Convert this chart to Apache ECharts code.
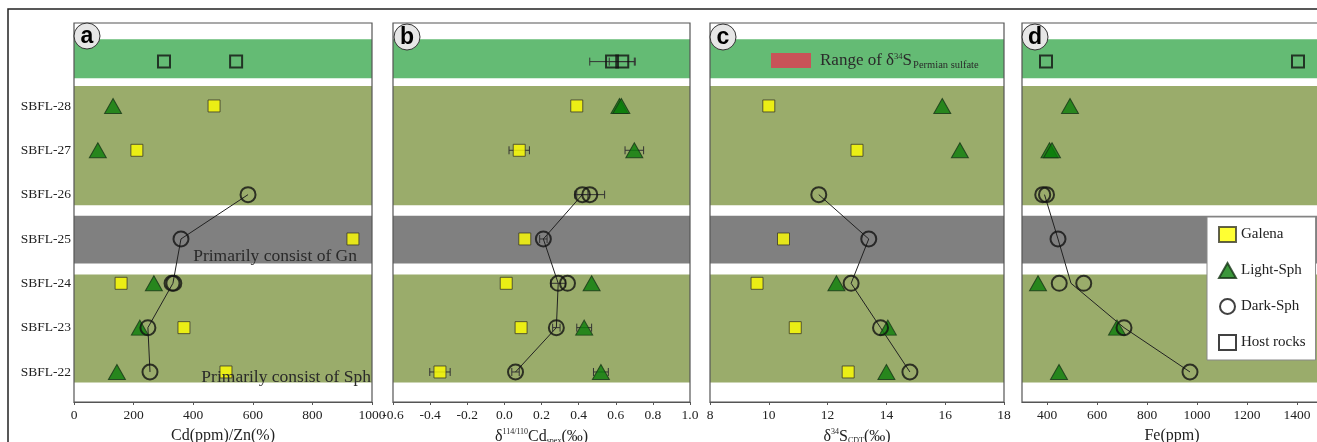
<!DOCTYPE html>
<html><head><meta charset="utf-8">
<script src="https://cdn.jsdelivr.net/npm/echarts@6/dist/echarts.min.js"></script>
<style>html,body{margin:0;padding:0;background:#fff}#c{width:1317px;height:442px}</style>
</head><body><div id="c"></div>
<script>
// Row index: 0=SBFL-22 ... 6=SBFL-28, 7=host rocks
const rows = ['SBFL-22','SBFL-23','SBFL-24','SBFL-25','SBFL-26','SBFL-27','SBFL-28'];
const rowTicks = [0,1,2,3,4,5,6];

// Panel a: Cd(ppm)/Zn(%)
const aGalena = [[510,0],[369,1],[158,2],[936,3],[211,5],[470,6]];
const aLight  = [[144,0],[221,1],[268,2],[80,5],[131,6]];
const aDark   = [[255,0],[248,1],[329,2],[335,2],[359,3],[584,4]];
const aTrend  = [[584,4],[359,3],[332,2],[248,1],[255,0]];
const aHost   = [[302,7],[544,7]];

// Panel b: d114/110Cd (value,row,error)
const bGalena = [[-0.347,0,0.055],[0.09,1,0],[0.01,2,0],[0.11,3,0],[0.08,5,0.055],[0.39,6,0]];
const bLight  = [[0.52,0,0.04],[0.43,1,0.04],[0.47,2,0],[0.70,5,0.05],[0.62,6,0],[0.63,6,0]];
const bDark   = [[0.06,0,0.02],[0.28,1,0.02],[0.29,2,0.04],[0.34,2,0],[0.21,3,0.02],[0.42,4,0.03],[0.46,4,0.08]];
const bTrend  = [[0.42,4],[0.21,3],[0.29,2],[0.28,1],[0.06,0]];
const bHost   = [[0.58,7,0.12],[0.635,7,0.07]];

// Panel c: d34S CDT
const cGalena = [[12.7,0],[10.9,1],[9.6,2],[10.5,3],[13.0,5],[10.0,6]];
const cLight  = [[14.0,0],[14.05,1],[12.3,2],[16.5,5],[15.9,6]];
const cDark   = [[14.8,0],[13.8,1],[12.8,2],[13.4,3],[11.7,4]];
const cTrend  = [[11.7,4],[13.4,3],[12.8,2],[13.8,1],[14.8,0]];

// Panel d: Fe(ppm)
const dLight  = [[448,0],[680,1],[364,2],[410,5],[420,5],[492,6]];
const dDark   = [[972,0],[708,1],[449,2],[547,2],[444,3],[383,4],[398,4]];
const dTrend  = [[390,4],[444,3],[496,2],[708,1],[972,0]];
const dHost   = [[396,7],[1404,7]];

// Background bands (row units): [from, to, kind]
const bands = [[6.623,7.503,'host'],[3.763,6.449,'sph'],[2.447,3.521,'gn'],[-0.239,2.199,'sph']];
const bandColors = {host:'#64bb74', sph:'#9aac6b', gn:'#808080'};

const xTicksD = [400,600,800,1000,1200,1400];

const FONT = 'Liberation Serif';
const chart = echarts.init(document.getElementById('c'));

const grids = [
  {left:74, top:23, width:298, height:379},
  {left:393, top:23, width:297, height:379},
  {left:710, top:23, width:294, height:379},
  {left:1022, top:23, width:300, height:379}
].map(g => Object.assign(g, {show:true, borderColor:'#555', borderWidth:1.2, backgroundColor:'transparent', z:10, outerBoundsMode:'none', containLabel:false}));

function xAx(i, min, max, interval, name, extra) {
  return Object.assign({
    type:'value', gridIndex:i, min:min, max:max, interval:interval,
    name:name, nameLocation:'middle', nameGap:26,
    nameTextStyle:{fontFamily:FONT, fontSize:16, color:'#222'},
    splitLine:{show:false},
    axisLine:{show:true, onZero:false, lineStyle:{color:'#555', width:1.2}},
    axisTick:{show:true, inside:false, length:3, lineStyle:{color:'#555'}},
    axisLabel:{fontFamily:FONT, fontSize:13.5, color:'#222', margin:6, showMinLabel:true, showMaxLabel:true, formatter:v=>String(v)},
    z:10
  }, extra||{});
}
function yAx(i, labels) {
  return {
    type:'value', gridIndex:i, min:-0.677, max:7.871,
    splitLine:{show:false}, axisLine:{show:false, onZero:false}, axisTick:{show:false},
    axisLabel: labels ? {show:true, customValues:rowTicks, formatter:v=>rows[v], fontFamily:FONT, fontSize:13.5, color:'#222', margin:3} : {show:false}
  };
}

const xAxes = [
  xAx(0, 0, 1000, 200, 'Cd(ppm)/Zn(%)'),
  xAx(1, -0.6, 1.0, 0.2, '{n|δ}{sup|114/110}{n|Cd}{sub|spex}{n|(‰)}', {axisLabel:{fontFamily:FONT, fontSize:13.5, color:'#222', margin:6, formatter:v=>v.toFixed(1)}}),
  xAx(2, 8, 18, 2, '{n|δ}{sup|34}{n|S}{sub|CDT}{n|(‰)}'),
  xAx(3, 300, 1500, 100, 'Fe(ppm)', {
    axisLabel:{customValues:xTicksD, fontFamily:FONT, fontSize:13.5, color:'#222', margin:6, formatter:v=>String(v)},
    axisTick:{customValues:xTicksD, show:true, length:3, lineStyle:{color:'#555'}}
  })
];
const richName = {
  n:{fontFamily:FONT, fontSize:16, color:'#222'},
  sup:{fontFamily:FONT, fontSize:8, color:'#222', padding:[0,0,9,0]},
  sub:{fontFamily:FONT, fontSize:8, color:'#222', padding:[9,0,0,0]}
};
xAxes[1].nameTextStyle.rich = richName;
xAxes[2].nameTextStyle.rich = richName;

const yAxes = [yAx(0,true), yAx(1,false), yAx(2,false), yAx(3,false)];

const galenaStyle = {symbol:'rect', symbolSize:12, itemStyle:{color:'#ffff00', borderColor:'#3a3a2a', borderWidth:1}};
const lightStyle = {symbol:'triangle', symbolSize:[17,15], itemStyle:{color:'#0a7d0a', borderColor:'#173517', borderWidth:1}};
const darkStyle = {symbol:'circle', symbolSize:15, itemStyle:{color:'rgba(0,0,0,0)', borderColor:'#111', borderWidth:2}};
const hostStyle = {symbol:'rect', symbolSize:12, itemStyle:{color:'rgba(0,0,0,0)', borderColor:'#111', borderWidth:2}};

const series = [];
function bandSeries(i) {
  series.push({
    type:'scatter', name:'bands'+i, xAxisIndex:i, yAxisIndex:i, data:[], silent:true, z:0,
    markArea:{silent:true, itemStyle:{opacity:1}, data: bands.map(b => [
      {yAxis:b[0], itemStyle:{color:bandColors[b[2]], opacity:1}}, {yAxis:b[1]}
    ])}
  });
}
function errSeries(i, data) {
  series.push({
    type:'custom', xAxisIndex:i, yAxisIndex:i, z:2, silent:true, data:data,
    renderItem:(params, api) => {
      const x = api.value(0), y = api.value(1), e = api.value(2);
      if (!e) return null;
      const p1 = api.coord([x-e, y]), p2 = api.coord([x+e, y]);
      const st = {stroke:'#333', lineWidth:1};
      return {type:'group', children:[
        {type:'line', shape:{x1:p1[0], y1:p1[1], x2:p2[0], y2:p2[1]}, style:st},
        {type:'line', shape:{x1:p1[0], y1:p1[1]-4, x2:p1[0], y2:p1[1]+4}, style:st},
        {type:'line', shape:{x1:p2[0], y1:p2[1]-4, x2:p2[0], y2:p2[1]+4}, style:st}
      ]};
    }
  });
}
function trend(i, data) {
  series.push({type:'line', name:'trend'+i, xAxisIndex:i, yAxisIndex:i, data:data, symbol:'none', z:3, silent:true,
    lineStyle:{color:'#222', width:1}});
}
function scat(i, name, data, style) {
  series.push(Object.assign({type:'scatter', name:name, xAxisIndex:i, yAxisIndex:i, data:data, z:5}, JSON.parse(JSON.stringify(style))));
}

// Panel a
bandSeries(0); trend(0, aTrend);
scat(0,'Galena',aGalena,galenaStyle); scat(0,'Light-Sph',aLight,lightStyle); scat(0,'Dark-Sph',aDark,darkStyle); scat(0,'Host rocks',aHost,hostStyle);
// Panel b
bandSeries(1); errSeries(1, bGalena.concat(bLight, bDark, bHost)); trend(1, bTrend);
scat(1,'Galena',bGalena,galenaStyle); scat(1,'Light-Sph',bLight,lightStyle); scat(1,'Dark-Sph',bDark,darkStyle); scat(1,'Host rocks',bHost,hostStyle);
// Panel c
bandSeries(2); trend(2, cTrend);
scat(2,'Galena',cGalena,galenaStyle); scat(2,'Light-Sph',cLight,lightStyle); scat(2,'Dark-Sph',cDark,darkStyle);
// Panel d
bandSeries(3); trend(3, dTrend);
scat(3,'Light-Sph',dLight,lightStyle); scat(3,'Dark-Sph',dDark,darkStyle); scat(3,'Host rocks',dHost,hostStyle);

function panelLabel(cx, cy, letter) {
  return [
    {type:'circle', z:50, zlevel:1, shape:{cx:cx, cy:cy, r:13}, style:{fill:'#e6e6e6', stroke:'#333', lineWidth:1}},
    {type:'text', z:51, zlevel:1, x:cx, y:cy+1, style:{text:letter, font:'bold 23px Liberation Sans', fill:'#000', align:'center', verticalAlign:'middle'}}
  ];
}

const option = {
  animation:false,
  backgroundColor:'#fff',
  grid: grids,
  xAxis: xAxes,
  yAxis: yAxes,
  legend: {
    data:['Galena','Light-Sph','Dark-Sph','Host rocks'],
    orient:'vertical', left:1207, top:217,
    itemWidth:17, itemHeight:15, itemGap:19,
    padding:[9,10,9,11],
    backgroundColor:'#fff', borderColor:'#888', borderWidth:1,
    textStyle:{fontFamily:FONT, fontSize:15, color:'#222'},
    selectedMode:false, z:30
  },
  graphic: [
    {type:'rect', z:-10, shape:{x:8, y:9, width:1400, height:500}, style:{fill:'none', stroke:'#222', lineWidth:1.5}},
    ...panelLabel(87, 36, 'a'), ...panelLabel(407, 37, 'b'), ...panelLabel(723, 37, 'c'), ...panelLabel(1035, 37, 'd'),
    {type:'text', z:50, zlevel:1, x:357, y:256, style:{text:'Primarily consist of Gn', font:'17.5px Liberation Serif', fill:'#2a2a2a', align:'right', verticalAlign:'middle'}},
    {type:'text', z:50, zlevel:1, x:371, y:377, style:{text:'Primarily consist of Sph', font:'17.5px Liberation Serif', fill:'#2a2a2a', align:'right', verticalAlign:'middle'}},
    {type:'rect', z:50, zlevel:1, shape:{x:771, y:53, width:40, height:15}, style:{fill:'#c95358'}},
    {type:'text', z:50, zlevel:1, x:820, y:61, style:{
      text:'{n|Range of δ}{sup|34}{n|S}{sub|Permian sulfate}', verticalAlign:'middle',
      rich:{
        n:{fontFamily:FONT, fontSize:17, fill:'#2a2a2a'},
        sup:{fontFamily:FONT, fontSize:8.5, fill:'#2a2a2a', padding:[0,0,9,0]},
        sub:{fontFamily:FONT, fontSize:10.5, fill:'#2a2a2a', padding:[9,0,0,1]}
      }
    }}
  ],
  series: series
};
chart.setOption(option);
</script>
</body></html>
